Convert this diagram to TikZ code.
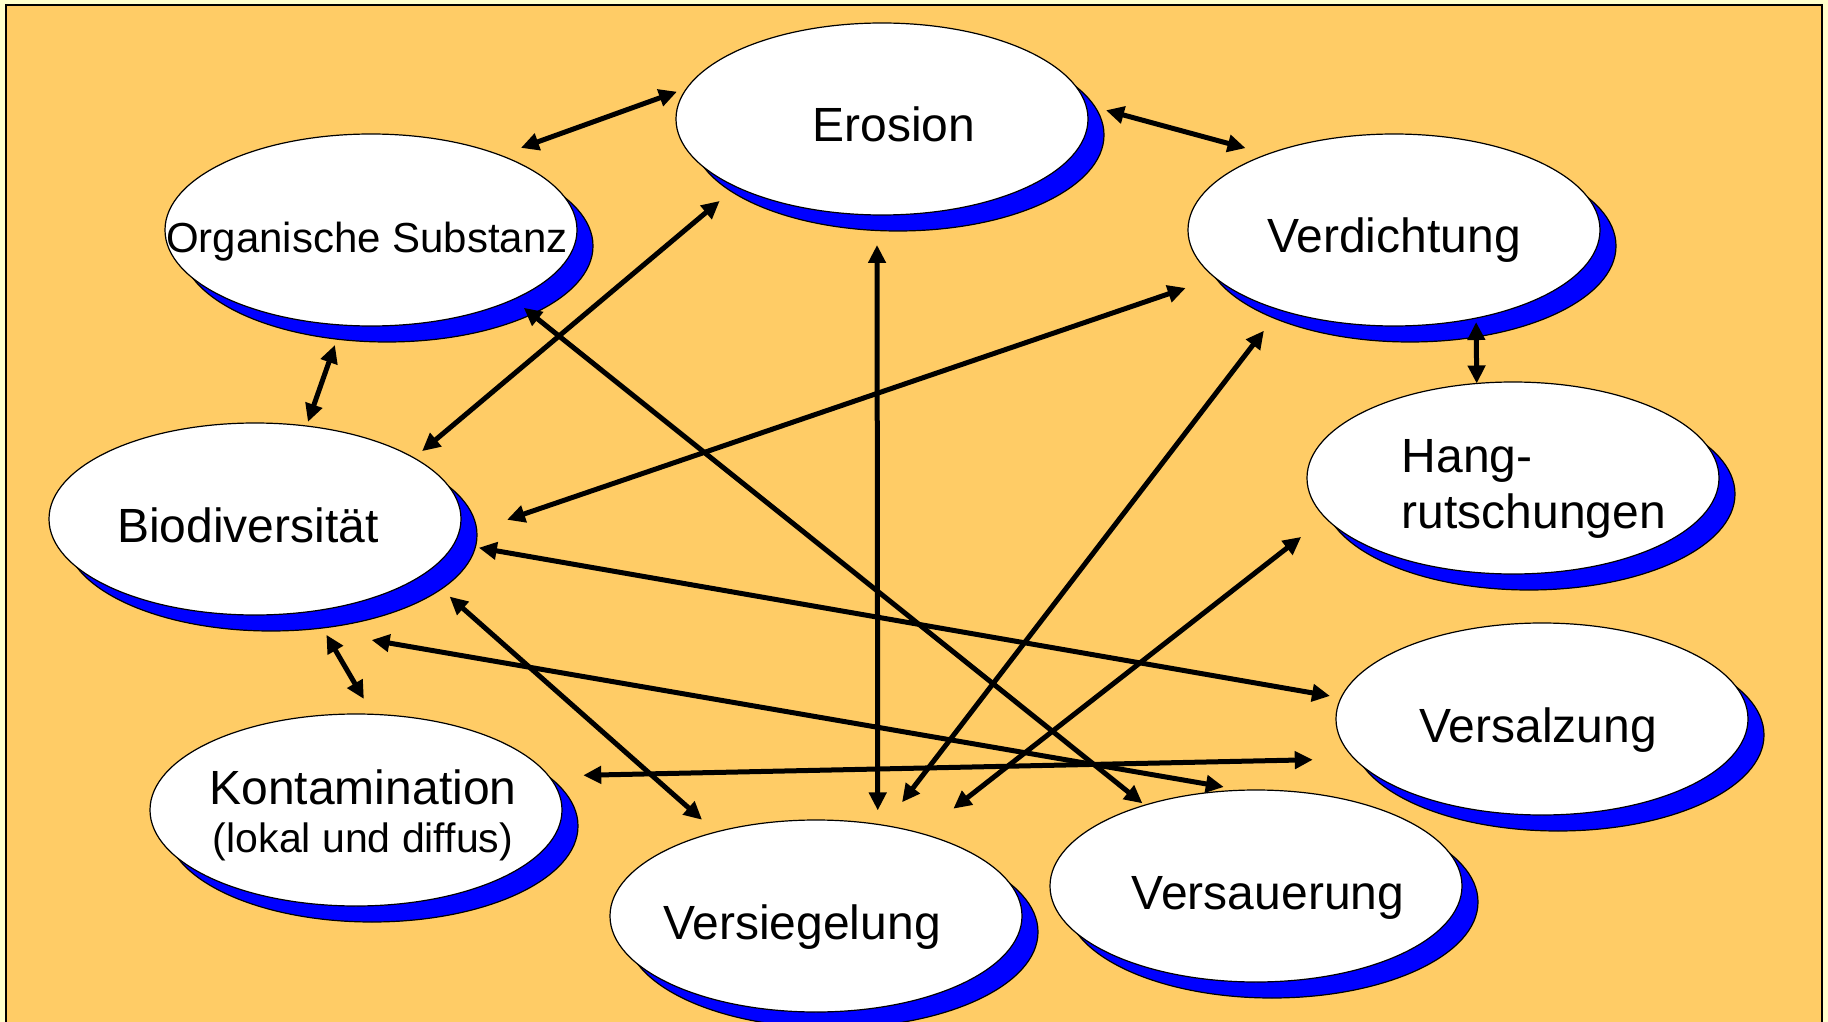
\documentclass[tikz,border=0pt]{standalone}
\usepackage{fontspec}
\setmainfont{Liberation Sans}
\usetikzlibrary{shapes.geometric,shadows,arrows.meta}
\definecolor{paleyellow}{HTML}{FFFFCC}
\definecolor{bgorange}{HTML}{FFCC66}
\begin{document}
\begin{tikzpicture}
    [
    x=0.5pt,y=-0.5pt,
    topic/.style={ellipse,draw,fill=white,line width=0.6pt,minimum width=206pt,minimum height=96pt,
      inner xsep=-30pt,inner ysep=0pt,outer sep=0pt,font=\fontsize{24}{28}\selectfont,
      text height=24pt,text depth=1pt,
      drop shadow={shadow xshift=8pt,shadow yshift=-8pt,fill=blue,draw=black,opacity=1}},
    twoline/.style={text height=,text depth=},
    link/.style={{Triangle[length=9pt,width=8.5pt]}-{Triangle[length=9pt,width=8.5pt]},line width=2.5pt}
    ]
    \useasboundingbox (0,0) rectangle (1828,1022);
    \fill [paleyellow] (0,0) rectangle (1828,1022);
    \draw [fill=bgorange,line width=1pt] (6,5) rectangle (1822,1040);
    \node (ero) at (882,119) [topic] {\hspace*{12pt}Erosion};
    \node (org) at (371,230) [topic,font=\fontsize{21}{25}\selectfont] {Organische Substanz\hspace*{4pt}};
    \node (verd) at (1394,230) [topic] {Verdichtung};
    \node (bio) at (255,519) [topic] {Biodiversität\hspace*{7pt}};
    \node (hang) at (1513,478) [topic,twoline,align=left] {\hspace*{21pt}\rule{0pt}{27pt}Hang-\\\hspace*{21pt}rutschungen};
    \node (salz) at (1542,719) [topic] {Versalzung\hspace*{4pt}};
    \node (kont) at (356,810) [topic,twoline,align=center,font=\fontsize{24}{24}\selectfont] {\hspace*{7pt}\rule{0pt}{23pt}Kontamination\\\hspace*{7pt}{\fontsize{20.5}{24}\selectfont(lokal und diffus)}};
    \node (sieg) at (816,916) [topic] {Versiegelung\hspace*{14pt}};
    \node (sauer) at (1256,886) [topic] {\hspace*{12pt}Versauerung};
    \draw [link,shorten <=10.9pt,shorten >=5.3pt] (org.30) to (ero.171.4);
    \draw [link,shorten <=10.5pt,shorten >=11.5pt] (ero.4.7) to (verd.149.2);
    \draw [link,shorten <=10.6pt,shorten >=2.2pt] (org.253) to (bio.61);
    \draw [link,shorten <=5.3pt,shorten >=10.9pt] (bio.21.7) to (ero.205.8);
    \draw [link,shorten <=6.7pt,shorten >=1.5pt] (org.-26.8) to (sauer.144.8);
    \draw [link,shorten <=15pt,shorten >=7pt] (ero.-93.6) to (sieg.56.8);
    \draw [link,shorten <=26.2pt,shorten >=15.7pt] (bio.-5.05) to (verd.195.4);
    \draw [link,shorten <=2pt] (verd.-47.5) to (hang.111.9);
    \draw [link,shorten <=13.1pt,shorten >=14.6pt] (verd.215.4) to (sieg.53.5);
    \draw [link,shorten <=15.5pt,shorten >=20.2pt] (hang.192) to (sieg.38.9);
    \draw [link,shorten <=12.5pt,shorten >=5.6pt] (bio.-7.4) to (salz.174);
    \draw [link,shorten <=17.1pt,shorten >=9.3pt] (bio.-18.2) to (sieg.140.4);
    \draw [link,shorten <=13.7pt,shorten >=8.9pt] (bio.-58.8) to (kont.80.5);
    \draw [link,shorten <=78.5pt,shorten >=9.5pt] (bio.-112.3) to (sauer.98.5);
    \draw [link,shorten <=17.3pt,shorten >=20.9pt] (kont.10.1) to (salz.192.5);
  \end{tikzpicture}
\end{document}
